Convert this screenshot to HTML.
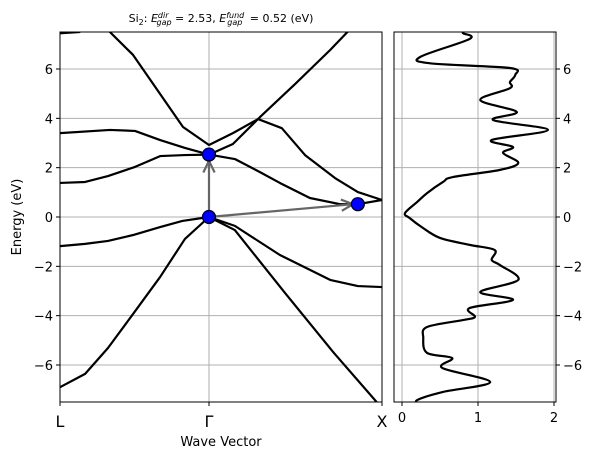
<!DOCTYPE html>
<html><head><meta charset="utf-8"><style>
body{margin:0;background:#fff}
svg{display:block;font-family:"DejaVu Sans","Liberation Sans",sans-serif}
</style></head><body>
<svg id="c" width="596" height="459"></svg>
<script>
// ---- data ----
const kLabels=["L","Γ","X"];
const kTicks=[0,0.4627,1];
const eTicks=[-6,-4,-2,0,2,4,6];
const dosTicks=[0,1,2];
const band1=[[0,-6.9],[0.078,-6.36],[0.149,-5.31],[0.227,-3.93],[0.311,-2.43],[0.388,-0.89],[0.4627,0],[0.543,-0.53],[0.7,-3.1],[0.85,-5.5],[1,-7.75]];
const band2=[[0,-1.18],[0.078,-1.09],[0.149,-0.97],[0.227,-0.73],[0.311,-0.41],[0.38,-0.16],[0.4627,0],[0.543,-0.36],[0.683,-1.54],[0.839,-2.55],[0.925,-2.8],[1,-2.84]];
const bandC1=[[0,1.38],[0.078,1.42],[0.149,1.66],[0.233,2.03],[0.311,2.47],[0.388,2.51],[0.4627,2.53],[0.543,2.35],[0.621,1.82],[0.683,1.38],[0.776,0.77],[0.87,0.52],[0.925,0.52],[1,0.69]];
const bandC2=[[0,3.40],[0.155,3.53],[0.233,3.49],[0.311,3.12],[0.388,2.8],[0.4627,2.53],[0.537,2.96],[0.621,4.05],[0.73,5.39],[0.839,6.77],[0.9,7.6]];
const bandC3=[[0.1,8.3],[0.155,7.5],[0.227,6.57],[0.382,3.65],[0.4627,2.92],[0.537,3.4],[0.615,3.97],[0.689,3.6],[0.761,2.51],[0.854,1.58],[0.925,1.01],[1,0.69]];
const bandC4=[[0,7.45],[0.06,7.5],[0.09,7.7]];
const bands=[band1,band2,bandC1,bandC2,bandC3,bandC4];
const dosE=[7.6,7.46,7.22,6.49,6.23,6.04,5.76,5.47,5.22,4.74,4.26,3.93,3.53,3.12,2.84,2.6,2.19,1.91,1.62,1.42,0.97,0.61,0.16,-0.04,-0.41,-0.85,-1.13,-1.34,-1.74,-1.95,-2.55,-3.04,-3.36,-3.69,-4.05,-4.18,-4.46,-4.9,-5.51,-5.72,-6.12,-6.69,-7.09,-7.42,-7.6];
const dosV=[0.85,0.8,0.89,0.24,0.37,1.42,1.49,1.42,1.42,1.03,1.51,1.2,1.92,1.18,1.46,1.33,1.53,1.29,0.67,0.54,0.33,0.2,0.04,0.1,0.26,0.5,0.89,1.22,1.18,1.29,1.53,1.03,1.46,0.89,0.96,0.8,0.33,0.28,0.33,0.66,0.53,1.16,0.54,0.2,0.24];
const gapPts=[[0.4627,0],[0.4627,2.53],[0.925,0.52]];
// ---- scales ----
const L=60,R=382,T=32,B=402,DL=394,DR=556;
const X=k=>L+k*(R-L);
const Y=e=>217-e*(B-T)/15;
const DX=d=>402+d*76;
const NS="http://www.w3.org/2000/svg";
const svg=document.getElementById('c');
function mk(t,a,p){const e=document.createElementNS(NS,t);for(const k in a)e.setAttribute(k,a[k]);(p||svg).appendChild(e);return e;}
const defs=mk('defs',{});
const cp=mk('clipPath',{id:'cp1'},defs);mk('rect',{x:L,y:T,width:R-L,height:B-T},cp);
const cp2=mk('clipPath',{id:'cp2'},defs);mk('rect',{x:DL,y:T,width:DR-DL,height:B-T},cp2);
// grid
eTicks.forEach(v=>{
 const g=mk('line',{x1:L,x2:R,y1:Y(v),y2:Y(v),stroke:'#b0b0b0','stroke-width':1});
 
 
 const g2=mk('line',{x1:DL,x2:DR,y1:Y(v),y2:Y(v),stroke:'#b0b0b0','stroke-width':1});
 
 
 mk('line',{x1:L-4,x2:L,y1:Y(v),y2:Y(v),stroke:'#000'});
 mk('line',{x1:DR,x2:DR+4,y1:Y(v),y2:Y(v),stroke:'#000'});
 const t=mk('text',{x:L-7,y:Y(v)+5,'text-anchor':'end','font-size':13});t.textContent=(v<0?'−':'')+Math.abs(v);
 
 
 const t2=mk('text',{x:DR+7,y:Y(v)+5,'font-size':13});t2.textContent=(v<0?'−':'')+Math.abs(v);
 
 
});
kTicks.forEach((k,i)=>{
 if(i>0&&i<kTicks.length-1)mk('line',{x1:X(k),x2:X(k),y1:T,y2:B,stroke:'#b0b0b0'});
 mk('line',{x1:X(k),x2:X(k),y1:B,y2:B+4,stroke:'#000'});
 const t=mk('text',{x:X(k),y:427,'text-anchor':'middle','font-size':16});t.textContent=kLabels[i];
 
 
});
dosTicks.forEach(d=>{
 mk('line',{x1:DX(d),x2:DX(d),y1:T,y2:B,stroke:'#b0b0b0'});
 mk('line',{x1:DX(d),x2:DX(d),y1:B,y2:B+4,stroke:'#000'});
 const t=mk('text',{x:DX(d),y:422,'text-anchor':'middle','font-size':13});t.textContent=d;
 
 
});
// bands
const gb=mk('g',{'clip-path':'url(#cp1)'});
bands.forEach(b=>{
 const p=mk('polyline',{points:b.map(q=>X(q[0])+','+Y(q[1])).join(' '),fill:'none',stroke:'#000','stroke-width':2.2,'stroke-linejoin':'round'},gb);
 
 
});
// arrows
function arrow(a,b,name){
 const x1=X(a[0]),y1=Y(a[1]),x2=X(b[0]),y2=Y(b[1]);
 const g=mk('g',{stroke:'#666','stroke-width':2.2,fill:'none'});
 
 
 mk('line',{x1,y1,x2,y2},g);
 const ang=Math.atan2(y2-y1,x2-x1),h=13,w=0.45;
 mk('polyline',{points:[x2-h*Math.cos(ang-w),y2-h*Math.sin(ang-w),x2,y2,x2-h*Math.cos(ang+w),y2-h*Math.sin(ang+w)].join(' ')},g);
}
arrow(gapPts[0],[gapPts[1][0],gapPts[1][1]-0.25],'direct-gap-arrow');
arrow(gapPts[0],[gapPts[2][0]-0.015,gapPts[2][1]],'fundamental-gap-arrow');
gapPts.forEach(p=>{
 const c=mk('circle',{cx:X(p[0]),cy:Y(p[1]),r:6.5,fill:'#0000ff',stroke:'#000','stroke-width':1.2});
 
 
});
// DOS curve (catmull-rom)
const pts=dosE.map((e,i)=>[DX(dosV[i]),Y(e)]);
let d='M'+pts[0];
for(let i=0;i<pts.length-1;i++){
 const p0=pts[Math.max(0,i-1)],p1=pts[i],p2=pts[i+1],p3=pts[Math.min(pts.length-1,i+2)];
 const c1=[p1[0]+(p2[0]-p0[0])/6,p1[1]+(p2[1]-p0[1])/6],c2=[p2[0]-(p3[0]-p1[0])/6,p2[1]-(p3[1]-p1[1])/6];
 d+=' C'+c1+' '+c2+' '+p2;
}
const gd=mk('g',{'clip-path':'url(#cp2)'});
const dp=mk('path',{d,fill:'none',stroke:'#000','stroke-width':2.2},gd);


// frames
const f1=mk('rect',{x:L,y:T,width:R-L,height:B-T,fill:'none',stroke:'#000','stroke-width':1});

const f2=mk('rect',{x:DL,y:T,width:DR-DL,height:B-T,fill:'none',stroke:'#000','stroke-width':1});

</script>
<script>
(function(){
const svg=document.getElementById('c');const NS="http://www.w3.org/2000/svg";
const xl=document.createElementNS(NS,'text');xl.setAttribute('x',221);xl.setAttribute('y',446);xl.setAttribute('text-anchor','middle');xl.setAttribute('font-size',13);xl.textContent='Wave Vector';


svg.appendChild(xl);
const yl=document.createElementNS(NS,'text');yl.setAttribute('transform','translate(21,217) rotate(-90)');yl.setAttribute('text-anchor','middle');yl.setAttribute('font-size',13);yl.textContent='Energy (eV)';


svg.appendChild(yl);
const t=document.createElementNS(NS,'text');t.setAttribute('x',221);t.setAttribute('y',22);t.setAttribute('text-anchor','middle');t.setAttribute('font-size',11);
t.innerHTML='Si<tspan font-size="8" dy="3">2</tspan><tspan dy="-3">: </tspan><tspan font-style="italic">E</tspan><tspan font-size="8" font-style="italic" dy="-4">dir</tspan><tspan font-size="8" font-style="italic" dx="-12" dy="7">gap</tspan><tspan dy="-3"> = 2.53, </tspan><tspan font-style="italic">E</tspan><tspan font-size="8" font-style="italic" dy="-4">fund</tspan><tspan font-size="8" font-style="italic" dx="-17" dy="7">gap</tspan><tspan dy="-3" dx="4"> = 0.52 (eV)</tspan>';


svg.appendChild(t);
})();
</script>
</body></html>
